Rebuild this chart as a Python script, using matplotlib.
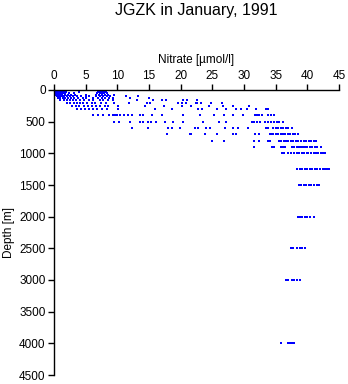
import matplotlib
matplotlib.use("Agg")
import matplotlib.pyplot as plt

plt.rcParams['font.family'] = ['Liberation Sans', 'DejaVu Sans']

# Nitrate [umol/l] observed at each standard depth [m]
no3_0 = [0.1, 0.2, 0.3, 0.4, 0.5, 0.6, 0.8, 1.0, 1.2, 7.0, 7.3, 7.6, 7.9]
no3_10 = [0.1, 0.3, 0.5, 0.7, 0.9, 1.1, 1.4, 7.1, 7.5, 7.8, 8.1]
no3_20 = [0.2, 0.4, 0.6, 0.8, 1.0, 1.3, 1.6, 6.9, 7.4, 7.7, 8.0]
no3_30 = [0.1, 0.3, 0.5, 0.7, 1.0, 1.2, 1.5, 1.9, 4.0, 7.0, 7.3, 7.6, 8.2]
no3_50 = [0.2, 0.4, 0.6, 0.9, 1.1, 1.4, 1.8, 2.3, 3.2, 6.8, 7.2, 7.5, 7.9, 8.4]
no3_75 = [0.3, 0.5, 0.8, 1.0, 1.3, 1.7, 2.2, 2.7, 3.3, 5.0, 6.7, 7.1, 7.6, 8.0, 8.6, 9.5]
no3_100 = [0.4, 0.7, 1.0, 1.3, 1.6, 2.0, 2.5, 3.0, 3.6, 4.2, 5.1, 5.6, 6.6, 7.2,
           7.7, 8.3, 8.8, 11.3, 13.3]
no3_125 = [0.6, 1.0, 1.4, 1.8, 2.2, 2.7, 3.2, 3.8, 4.5, 5.0, 6.2, 7.0, 7.6, 8.1,
           8.7, 9.3, 12.0, 15.0]
no3_150 = [1.0, 1.5, 2.0, 2.5, 3.0, 3.5, 4.1, 4.8, 5.5, 6.1, 7.2, 7.8, 8.5, 9.3,
           13.1, 15.6, 17.0, 17.7, 20.4, 21.0, 22.6]
no3_200 = [2.0, 2.6, 3.1, 3.6, 4.1, 4.6, 5.2, 6.0, 6.5, 7.4, 8.2, 9.5, 11.8, 14.7,
           15.2, 19.6, 20.2, 20.8, 22.4, 22.6, 23.2, 24.8, 26.6]
no3_250 = [2.8, 3.4, 4.0, 4.7, 5.3, 6.0, 6.7, 7.3, 8.0, 8.6, 10.1, 14.3, 17.3, 20.2,
           21.7, 24.5, 26.7, 28.2, 30.8]
no3_300 = [3.6, 4.2, 4.9, 5.5, 6.2, 6.8, 7.5, 8.3, 10.1, 16.0, 18.6, 22.7, 23.3, 25.8,
           27.2, 28.7, 29.6, 30.4, 31.9, 33.5, 33.8]
no3_400 = [6.2, 7.0, 7.8, 8.7, 9.3, 9.7, 10.0, 10.4, 11.0, 11.7, 12.3, 13.6, 14.0,
           15.4, 17.0, 20.3, 23.0, 25.2, 26.9, 28.3, 29.9, 31.7, 32.0, 32.4, 32.8,
           33.8, 34.2, 34.7]
no3_500 = [9.4, 10.3, 12.0, 13.5, 14.1, 14.9, 15.3, 16.1, 17.5, 18.8, 20.4, 23.6,
           26.1, 27.2, 31.2, 31.6, 32.0, 32.5, 33.3, 33.8, 34.2, 34.7, 35.2, 35.6, 36.2]
no3_600 = [12.3, 14.9, 18.0, 18.6, 19.9, 22.3, 22.7, 24.0, 24.7, 27.0, 28.3, 29.1,
           30.7, 33.5, 33.8, 34.6, 35.0, 35.4, 35.8, 36.2, 36.6, 37.0, 37.5]
no3_700 = [17.9, 21.5, 21.6, 23.8, 25.8, 28.2, 28.8, 31.7, 32.4, 34.1, 34.3, 34.6,
           35.0, 35.4, 35.8, 36.2, 36.5, 36.9, 37.3, 37.7, 38.1, 38.5]
no3_800 = [25.0, 26.9, 31.6, 32.4, 33.8, 34.1, 35.5, 35.9, 36.3, 36.7, 37.0, 37.4,
           37.8, 38.2, 38.6, 39.0, 39.4, 39.8, 40.2, 40.6, 41.0, 41.4]
no3_900 = [31.5, 34.4, 34.8, 35.8, 36.2, 36.5, 37.5, 37.9, 38.3, 38.7, 39.0, 39.3,
           39.6, 40.0, 40.4, 40.8, 41.2, 41.6, 42.1]
no3_1000 = [36.0, 36.3, 37.0, 37.4, 37.9, 38.3, 38.7, 39.1, 39.5, 39.9, 40.1, 40.6,
            41.0, 41.4, 41.7, 42.2, 42.5, 42.8]
no3_1250 = [38.4, 38.8, 39.2, 39.6, 40.0, 40.4, 40.8, 41.2, 41.6, 42.0, 42.4, 42.8,
            43.1, 43.4]
no3_1500 = [38.7, 39.0, 39.4, 39.8, 40.2, 40.5, 41.1, 41.5, 41.8]
no3_2000 = [38.5, 38.8, 39.2, 39.6, 40.0, 40.4, 41.0]
no3_2500 = [37.4, 37.8, 38.4, 38.8, 39.2, 39.6]
no3_3000 = [36.7, 37.0, 37.5, 37.9, 38.3, 38.8]
no3_4000 = [35.8, 36.9, 37.2, 37.5, 37.9]

depth_levels = [0, 10, 20, 30, 50, 75, 100, 125, 150, 200, 250, 300, 400, 500, 600,
                700, 800, 900, 1000, 1250, 1500, 2000, 2500, 3000, 4000]
nitrate_lists = [no3_0, no3_10, no3_20, no3_30, no3_50, no3_75, no3_100, no3_125,
                 no3_150, no3_200, no3_250, no3_300, no3_400, no3_500, no3_600,
                 no3_700, no3_800, no3_900, no3_1000, no3_1250, no3_1500, no3_2000,
                 no3_2500, no3_3000, no3_4000]

x_ticks = [0, 5, 10, 15, 20, 25, 30, 35, 40, 45]
y_ticks = [0, 500, 1000, 1500, 2000, 2500, 3000, 3500, 4000, 4500]

xs, ys = [], []
for d, vals in zip(depth_levels, nitrate_lists):
    for v in vals:
        xs.append(v)
        ys.append(d)

W, H = 348, 384
fig = plt.figure(figsize=(W / 100, H / 100), dpi=100)
ax = fig.add_axes([54 / W, 1 - 375 / H, (339 - 54) / W, (375 - 90) / H])

ax.scatter(xs, ys, s=4.2, marker='s', color='#0000ff', linewidths=0)

ax.set_xlim(0, 45)
ax.set_ylim(4500, 0)
ax.set_xticks(x_ticks)
ax.set_yticks(y_ticks)
ax.xaxis.set_ticks_position('top')
ax.xaxis.set_label_position('top')
ax.spines['right'].set_visible(False)
ax.spines['bottom'].set_visible(False)
for s in ('top', 'left'):
    ax.spines[s].set_linewidth(1.0)
ax.tick_params(axis='both', direction='out', length=4, width=1.0, labelsize=8.5,
               pad=2)
ax.set_xlabel('Nitrate [µmol/l]', fontsize=8.5, labelpad=5)
ax.set_ylabel('Depth [m]', fontsize=8.5, labelpad=3)

fig.text(196.5 / W, 1 - 3 / H, 'JGZK in January, 1991', ha='center', va='top',
         fontsize=11.5)

fig.savefig('out.png', dpi=100)
